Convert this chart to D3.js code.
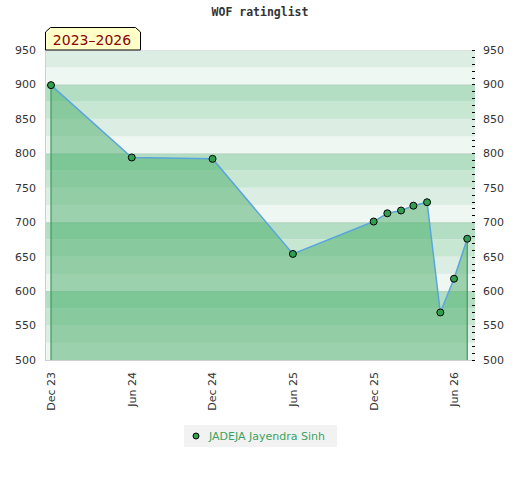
<!DOCTYPE html>
<html>
<head>
<meta charset="utf-8">
<script src="https://cdn.jsdelivr.net/npm/d3@7"></script>
<style>
  body { margin: 0; background: #fff; }
  svg { display: block; }
</style>
</head>
<body>
<svg id="chart" width="520" height="480"></svg>
<script>
// ---- data ----
const title = "WOF ratinglist";
const periodLabel = "2023–2026";
const seriesName = "JADEJA Jayendra Sinh";
const dates = ["2023-12-01","2024-06-01","2024-12-01","2025-06-01","2025-12-01","2026-01-01",
               "2026-02-01","2026-03-01","2026-04-01","2026-05-01","2026-06-01","2026-07-01"];
const ratings = [899, 794, 792, 654, 701, 713, 717, 724, 729, 569, 618, 676];
const xTickDates = ["2023-12-01","2024-06-01","2024-12-01","2025-06-01","2025-12-01","2026-06-01"];
const yTicks = [500, 550, 600, 650, 700, 750, 800, 850, 900, 950];

// ---- layout ----
const svg = d3.select("#chart");
const plot = { left: 46, right: 475, top: 50, bottom: 360 };
const parse = d3.utcParse("%Y-%m-%d");
const data = dates.map((d, i) => ({ date: parse(d), value: ratings[i] }));

const x = d3.scaleUtc()
  .domain([parse("2023-12-01"), parse("2026-06-01")])
  .range([51, 454]);
const y = d3.scaleLinear().domain([500, 950]).range([plot.bottom, plot.top]);

// background bands (25-unit stripes, 4-colour cycle per 100)
const bandColors = ["#eff7f2", "#dcede3", "#c8e7d3", "#b3dec4"]; // from bottom of each hundred
const bands = d3.range(500, 950, 25);
svg.append("g").selectAll("rect").data(bands).join("rect")
  .attr("x", plot.left)
  .attr("width", plot.right - plot.left)
  .attr("y", d => y(d + 25))
  .attr("height", d => y(d) - y(d + 25))
  .attr("fill", d => bandColors[((d - 500) / 25) % 4]);

// subtle separators at hundreds
svg.append("g").selectAll("line").data([600, 700, 800, 900]).join("line")
  .attr("x1", plot.left).attr("x2", plot.right)
  .attr("y1", d => y(d) + 0.5).attr("y2", d => y(d) + 0.5)
  .attr("stroke", "rgba(0,0,0,0.07)");

// area
const area = d3.area().x(d => x(d.date)).y0(y(500)).y1(d => y(d.value));
svg.append("path").datum(data)
  .attr("d", area)
  .attr("fill", "rgb(71,174,104)")
  .attr("fill-opacity", 0.5);

// area side edges
const first = data[0], last = data[data.length - 1];
[first, last].forEach(d => {
  svg.append("line")
    .attr("x1", x(d.date)).attr("x2", x(d.date))
    .attr("y1", y(d.value)).attr("y2", y(500))
    .attr("stroke", "#3a9a5a").attr("stroke-width", 1.2);
});

// line
const line = d3.line().x(d => x(d.date)).y(d => y(d.value));
svg.append("path").datum(data)
  .attr("d", line)
  .attr("fill", "none")
  .attr("stroke", "#5aa5dc")
  .attr("stroke-width", 1.5);

// points
svg.append("g").selectAll("circle").data(data).join("circle")
  .attr("cx", d => x(d.date)).attr("cy", d => y(d.value))
  .attr("r", 3.5)
  .attr("fill", "#30a050")
  .attr("stroke", "#000")
  .attr("stroke-width", 1);

// frame (left & bottom)
svg.append("line").attr("x1", plot.left - 0.5).attr("x2", plot.left - 0.5)
  .attr("y1", plot.top).attr("y2", plot.bottom + 1)
  .attr("stroke", "#d0d0d0");
svg.append("line").attr("x1", plot.left - 1).attr("x2", plot.right)
  .attr("y1", plot.bottom + 0.5).attr("y2", plot.bottom + 0.5)
  .attr("stroke", "#d0d0d0");
svg.append("line").attr("x1", plot.left).attr("x2", plot.right)
  .attr("y1", plot.top + 0.5).attr("y2", plot.top + 0.5)
  .attr("stroke", "#e2e2e2");

// left axis labels
const font = "DejaVu Sans, sans-serif";
svg.append("g").selectAll("text").data(yTicks).join("text")
  .attr("x", 36).attr("y", d => y(d))
  .attr("dy", "0.35em")
  .attr("text-anchor", "end")
  .attr("font-family", font).attr("font-size", 11)
  .attr("fill", "#333")
  .text(d => d);

// right axis: minor ticks inside + labels
const rightAxis = d3.axisRight(y)
  .tickValues(d3.range(500, 951, 10))
  .tickSize(0)
  .tickFormat("");
svg.append("g").selectAll("line").data(d3.range(500, 951, 10)).join("line")
  .attr("x1", 472).attr("x2", 475)
  .attr("y1", d => Math.round(y(d)) + 0.5).attr("y2", d => Math.round(y(d)) + 0.5)
  .attr("stroke", "#000");
svg.append("g").selectAll("text").data(yTicks).join("text")
  .attr("x", 483).attr("y", d => y(d))
  .attr("dy", "0.35em")
  .attr("font-family", font).attr("font-size", 11)
  .attr("fill", "#333")
  .text(d => d);

// x labels (rotated)
const fmt = d3.utcFormat("%b %y");
svg.append("g").selectAll("text").data(xTickDates.map(parse)).join("text")
  .attr("transform", d => `translate(${x(d)},372) rotate(-90)`)
  .attr("dy", "0.35em")
  .attr("text-anchor", "end")
  .attr("font-family", font).attr("font-size", 11)
  .attr("fill", "#333")
  .text(d => fmt(d));

// title
svg.append("text")
  .attr("x", 260).attr("y", 16)
  .attr("text-anchor", "middle")
  .attr("font-family", "DejaVu Sans Mono, monospace")
  .attr("font-weight", "bold")
  .attr("font-size", 11.5)
  .attr("fill", "#333")
  .text(title);

// period label box
svg.append("polygon")
  .attr("points", "45.5,50 45.5,32 50.5,27.5 135.5,27.5 140.5,32 140.5,50")
  .attr("fill", "#ffffc8")
  .attr("stroke", "#000")
  .attr("stroke-width", 1);
svg.append("text")
  .attr("x", 92).attr("y", 45)
  .attr("text-anchor", "middle")
  .attr("font-family", font).attr("font-size", 14)
  .attr("fill", "#8b0000")
  .text(periodLabel);

// legend
svg.append("rect")
  .attr("x", 184).attr("y", 425).attr("width", 153).attr("height", 22)
  .attr("fill", "#f2f2f2");
svg.append("circle")
  .attr("cx", 196).attr("cy", 436).attr("r", 3)
  .attr("fill", "#30a050").attr("stroke", "#000");
svg.append("text")
  .attr("x", 209).attr("y", 436).attr("dy", "0.35em")
  .attr("font-family", font).attr("font-size", 11)
  .attr("fill", "#3aa35f")
  .text(seriesName);
</script>
</body>
</html>
